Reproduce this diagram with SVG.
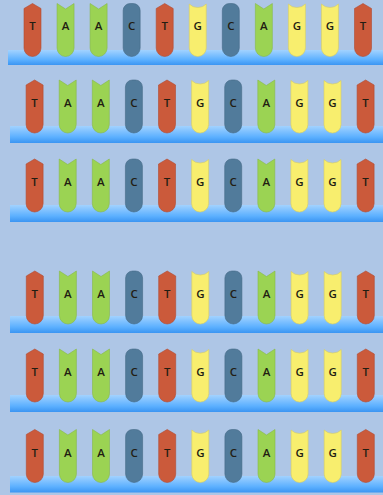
<svg xmlns="http://www.w3.org/2000/svg" xmlns:xlink="http://www.w3.org/1999/xlink" width="383" height="495" viewBox="0 0 383 495">
<defs>
<linearGradient id="barg" x1="0" y1="0" x2="0" y2="1">
<stop offset="0" stop-color="#a2d2ff"/>
<stop offset="0.65" stop-color="#5cb0ff"/>
<stop offset="1" stop-color="#3b95f2"/>
</linearGradient>
<path id="T" d="M0,0 L8.5,5 L8.5,44.5 A8.5,8.5 0 0 1 -8.5,44.5 L-8.5,5 Z" fill="#cb5a3b" stroke="#b14a30" stroke-width="0.6"/>
<path id="A" d="M-8.5,0 L0,5.5 L8.5,0 L8.5,44.5 A8.5,8.5 0 0 1 -8.5,44.5 Z" fill="#9bd353" stroke="#86b848" stroke-width="0.6"/>
<path id="G" d="M-8.5,0.5 A12,12 0 0 0 8.5,0.5 L8.5,44.5 A8.5,8.5 0 0 1 -8.5,44.5 Z" fill="#f8ee6e" stroke="#d8cf5e" stroke-width="0.6"/>
<path id="C" d="M-8.5,7 A7,7 0 0 1 -1.5,0 L1.5,0 A7,7 0 0 1 8.5,7 L8.5,44.5 A8.5,8.5 0 0 1 -8.5,44.5 Z" fill="#517b9b" stroke="#456a86" stroke-width="0.6"/>
</defs>
<style>
text{font-family:"Open Sans","Liberation Sans",sans-serif;font-size:11.5px;font-weight:600;fill:#221d12;text-anchor:middle}
.bar{fill:url(#barg)}
</style>
<rect width="383" height="495" fill="#aec6e6"/>
<g id="row1">
<rect class="bar" x="8" y="50" width="375" height="15"/>
<g id="r1n1" transform="translate(32.5,3.5)"><use href="#T"/><text y="26">T</text></g>
<g id="r1n2" transform="translate(65.55,3.5)"><use href="#A"/><text y="26">A</text></g>
<g id="r1n3" transform="translate(98.6,3.5)"><use href="#A"/><text y="26">A</text></g>
<g id="r1n4" transform="translate(131.65,3.5)"><use href="#C"/><text y="26">C</text></g>
<g id="r1n5" transform="translate(164.7,3.5)"><use href="#T"/><text y="26">T</text></g>
<g id="r1n6" transform="translate(197.75,3.5)"><use href="#G"/><text y="26">G</text></g>
<g id="r1n7" transform="translate(230.8,3.5)"><use href="#C"/><text y="26">C</text></g>
<g id="r1n8" transform="translate(263.85,3.5)"><use href="#A"/><text y="26">A</text></g>
<g id="r1n9" transform="translate(296.9,3.5)"><use href="#G"/><text y="26">G</text></g>
<g id="r1n10" transform="translate(329.95,3.5)"><use href="#G"/><text y="26">G</text></g>
<g id="r1n11" transform="translate(363,3.5)"><use href="#T"/><text y="26">T</text></g>
</g>
<g id="row2">
<rect class="bar" x="10" y="126" width="373" height="17"/>
<g id="r2n1" transform="translate(34.6,80)"><use href="#T"/><text y="27">T</text></g>
<g id="r2n2" transform="translate(67.7,80)"><use href="#A"/><text y="27">A</text></g>
<g id="r2n3" transform="translate(100.8,80)"><use href="#A"/><text y="27">A</text></g>
<g id="r2n4" transform="translate(133.9,80)"><use href="#C"/><text y="27">C</text></g>
<g id="r2n5" transform="translate(167,80)"><use href="#T"/><text y="27">T</text></g>
<g id="r2n6" transform="translate(200.1,80)"><use href="#G"/><text y="27">G</text></g>
<g id="r2n7" transform="translate(233.2,80)"><use href="#C"/><text y="27">C</text></g>
<g id="r2n8" transform="translate(266.3,80)"><use href="#A"/><text y="27">A</text></g>
<g id="r2n9" transform="translate(299.4,80)"><use href="#G"/><text y="27">G</text></g>
<g id="r2n10" transform="translate(332.5,80)"><use href="#G"/><text y="27">G</text></g>
<g id="r2n11" transform="translate(365.6,80)"><use href="#T"/><text y="27">T</text></g>
</g>
<g id="row3">
<rect class="bar" x="10" y="205" width="373" height="17"/>
<g id="r3n1" transform="translate(34.6,159)"><use href="#T"/><text y="27">T</text></g>
<g id="r3n2" transform="translate(67.7,159)"><use href="#A"/><text y="27">A</text></g>
<g id="r3n3" transform="translate(100.8,159)"><use href="#A"/><text y="27">A</text></g>
<g id="r3n4" transform="translate(133.9,159)"><use href="#C"/><text y="27">C</text></g>
<g id="r3n5" transform="translate(167,159)"><use href="#T"/><text y="27">T</text></g>
<g id="r3n6" transform="translate(200.1,159)"><use href="#G"/><text y="27">G</text></g>
<g id="r3n7" transform="translate(233.2,159)"><use href="#C"/><text y="27">C</text></g>
<g id="r3n8" transform="translate(266.3,159)"><use href="#A"/><text y="27">A</text></g>
<g id="r3n9" transform="translate(299.4,159)"><use href="#G"/><text y="27">G</text></g>
<g id="r3n10" transform="translate(332.5,159)"><use href="#G"/><text y="27">G</text></g>
<g id="r3n11" transform="translate(365.6,159)"><use href="#T"/><text y="27">T</text></g>
</g>
<g id="row4">
<rect class="bar" x="10" y="316" width="373" height="17"/>
<g id="r4n1" transform="translate(34.8,271)"><use href="#T"/><text y="27">T</text></g>
<g id="r4n2" transform="translate(67.9,271)"><use href="#A"/><text y="27">A</text></g>
<g id="r4n3" transform="translate(101,271)"><use href="#A"/><text y="27">A</text></g>
<g id="r4n4" transform="translate(134.1,271)"><use href="#C"/><text y="27">C</text></g>
<g id="r4n5" transform="translate(167.2,271)"><use href="#T"/><text y="27">T</text></g>
<g id="r4n6" transform="translate(200.3,271)"><use href="#G"/><text y="27">G</text></g>
<g id="r4n7" transform="translate(233.4,271)"><use href="#C"/><text y="27">C</text></g>
<g id="r4n8" transform="translate(266.5,271)"><use href="#A"/><text y="27">A</text></g>
<g id="r4n9" transform="translate(299.6,271)"><use href="#G"/><text y="27">G</text></g>
<g id="r4n10" transform="translate(332.7,271)"><use href="#G"/><text y="27">G</text></g>
<g id="r4n11" transform="translate(365.8,271)"><use href="#T"/><text y="27">T</text></g>
</g>
<g id="row5">
<rect class="bar" x="10" y="395" width="373" height="17"/>
<g id="r5n1" transform="translate(34.8,349)"><use href="#T"/><text y="27">T</text></g>
<g id="r5n2" transform="translate(67.9,349)"><use href="#A"/><text y="27">A</text></g>
<g id="r5n3" transform="translate(101,349)"><use href="#A"/><text y="27">A</text></g>
<g id="r5n4" transform="translate(134.1,349)"><use href="#C"/><text y="27">C</text></g>
<g id="r5n5" transform="translate(167.2,349)"><use href="#T"/><text y="27">T</text></g>
<g id="r5n6" transform="translate(200.3,349)"><use href="#G"/><text y="27">G</text></g>
<g id="r5n7" transform="translate(233.4,349)"><use href="#C"/><text y="27">C</text></g>
<g id="r5n8" transform="translate(266.5,349)"><use href="#A"/><text y="27">A</text></g>
<g id="r5n9" transform="translate(299.6,349)"><use href="#G"/><text y="27">G</text></g>
<g id="r5n10" transform="translate(332.7,349)"><use href="#G"/><text y="27">G</text></g>
<g id="r5n11" transform="translate(365.8,349)"><use href="#T"/><text y="27">T</text></g>
</g>
<g id="row6">
<rect class="bar" x="10" y="476" width="373" height="16.5"/>
<g id="r6n1" transform="translate(34.8,429.5)"><use href="#T"/><text y="27">T</text></g>
<g id="r6n2" transform="translate(67.9,429.5)"><use href="#A"/><text y="27">A</text></g>
<g id="r6n3" transform="translate(101,429.5)"><use href="#A"/><text y="27">A</text></g>
<g id="r6n4" transform="translate(134.1,429.5)"><use href="#C"/><text y="27">C</text></g>
<g id="r6n5" transform="translate(167.2,429.5)"><use href="#T"/><text y="27">T</text></g>
<g id="r6n6" transform="translate(200.3,429.5)"><use href="#G"/><text y="27">G</text></g>
<g id="r6n7" transform="translate(233.4,429.5)"><use href="#C"/><text y="27">C</text></g>
<g id="r6n8" transform="translate(266.5,429.5)"><use href="#A"/><text y="27">A</text></g>
<g id="r6n9" transform="translate(299.6,429.5)"><use href="#G"/><text y="27">G</text></g>
<g id="r6n10" transform="translate(332.7,429.5)"><use href="#G"/><text y="27">G</text></g>
<g id="r6n11" transform="translate(365.8,429.5)"><use href="#T"/><text y="27">T</text></g>
</g>
</svg>
